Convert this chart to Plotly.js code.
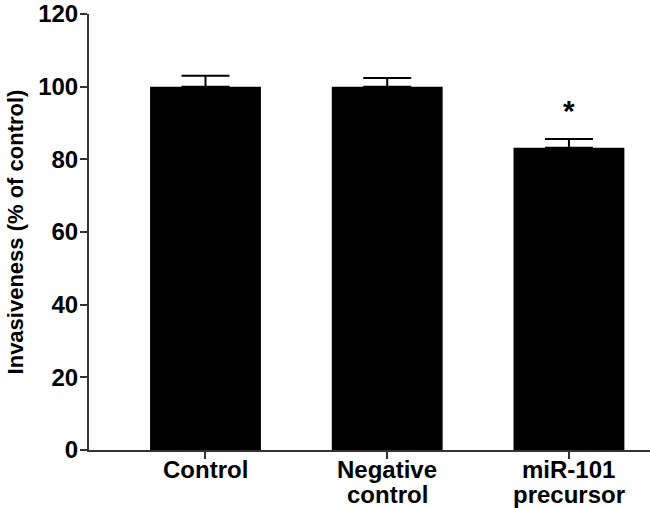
<!DOCTYPE html>
<html>
<head>
<meta charset="utf-8">
<script src="https://cdn.plot.ly/plotly-3.0.1.min.js"></script>
<style>html,body{margin:0;padding:0;background:#fff;}#chart{width:650px;height:508px;}</style>
</head>
<body>
<div id="chart"></div>
<script>
const categoryLines = [["Control"], ["Negative", "control"], ["miR-101", "precursor"]];
const values = [100, 100, 83.2];
const errors = [3, 2.4, 2.4];
const yTicks = [0, 20, 40, 60, 80, 100, 120];
const significance = ["", "", "*"];

const fam = "Liberation Sans, Arial, sans-serif";

const xPos = categoryLines.map((_, i) => i);

const trace = {
  type: "bar",
  x: xPos,
  y: values,
  width: 0.61,
  marker: {color: "#000", line: {width: 0}},
  error_y: {type: "data", array: errors, visible: true, color: "#000", thickness: 2, width: 24, symmetric: false, arrayminus: [0,0,0]},
  hoverinfo: "none"
};

const annotations = [];
significance.forEach((s, i) => {
  if (!s) return;
  annotations.push({
    x: i, y: values[i] + errors[i], xref: "x", yref: "y",
    text: "<b>" + s + "</b>", showarrow: false, yanchor: "bottom", yshift: 10,
    font: {family: fam, size: 30, color: "#000"}
  });
});
categoryLines.forEach((lines, i) => {
  lines.forEach((ln, j) => {
    annotations.push({
      x: i, y: 0, xref: "x", yref: "y",
      text: "<b>" + ln + "</b>", showarrow: false, yanchor: "top", xanchor: "center",
      yshift: -4 - 25 * j,
      font: {family: fam, size: 24, color: "#000"}
    });
  });
});

const layout = {
  width: 650, height: 508,
  margin: {l: 89, r: 0, t: 14, b: 58, pad: 0},
  paper_bgcolor: "#fff", plot_bgcolor: "#fff",
  showlegend: false,
  font: {family: fam, size: 20, color: "#000"},
  xaxis: {
    range: [-0.641, 2.446],
    tickvals: xPos, showticklabels: false,
    ticks: "outside", ticklen: 7, tickwidth: 2, tickcolor: "#333",
    showline: true, linecolor: "#333", linewidth: 2,
    showgrid: false, zeroline: false
  },
  yaxis: {
    range: [0, 120],
    tickvals: yTicks,
    ticks: "outside", ticklen: 7, tickwidth: 2, tickcolor: "#333",
    ticklabelstandoff: -3,
    showline: true, linecolor: "#333", linewidth: 2,
    showgrid: false, zeroline: false,
    tickfont: {family: fam, size: 24, color: "#000", weight: "bold"},
    title: {text: "<b>Invasiveness (% of control)</b>", font: {family: fam, size: 22, color: "#000"}, standoff: 8}
  },
  annotations: annotations
};

Plotly.newPlot("chart", [trace], layout, {displayModeBar: false, staticPlot: true});
</script>
</body>
</html>
